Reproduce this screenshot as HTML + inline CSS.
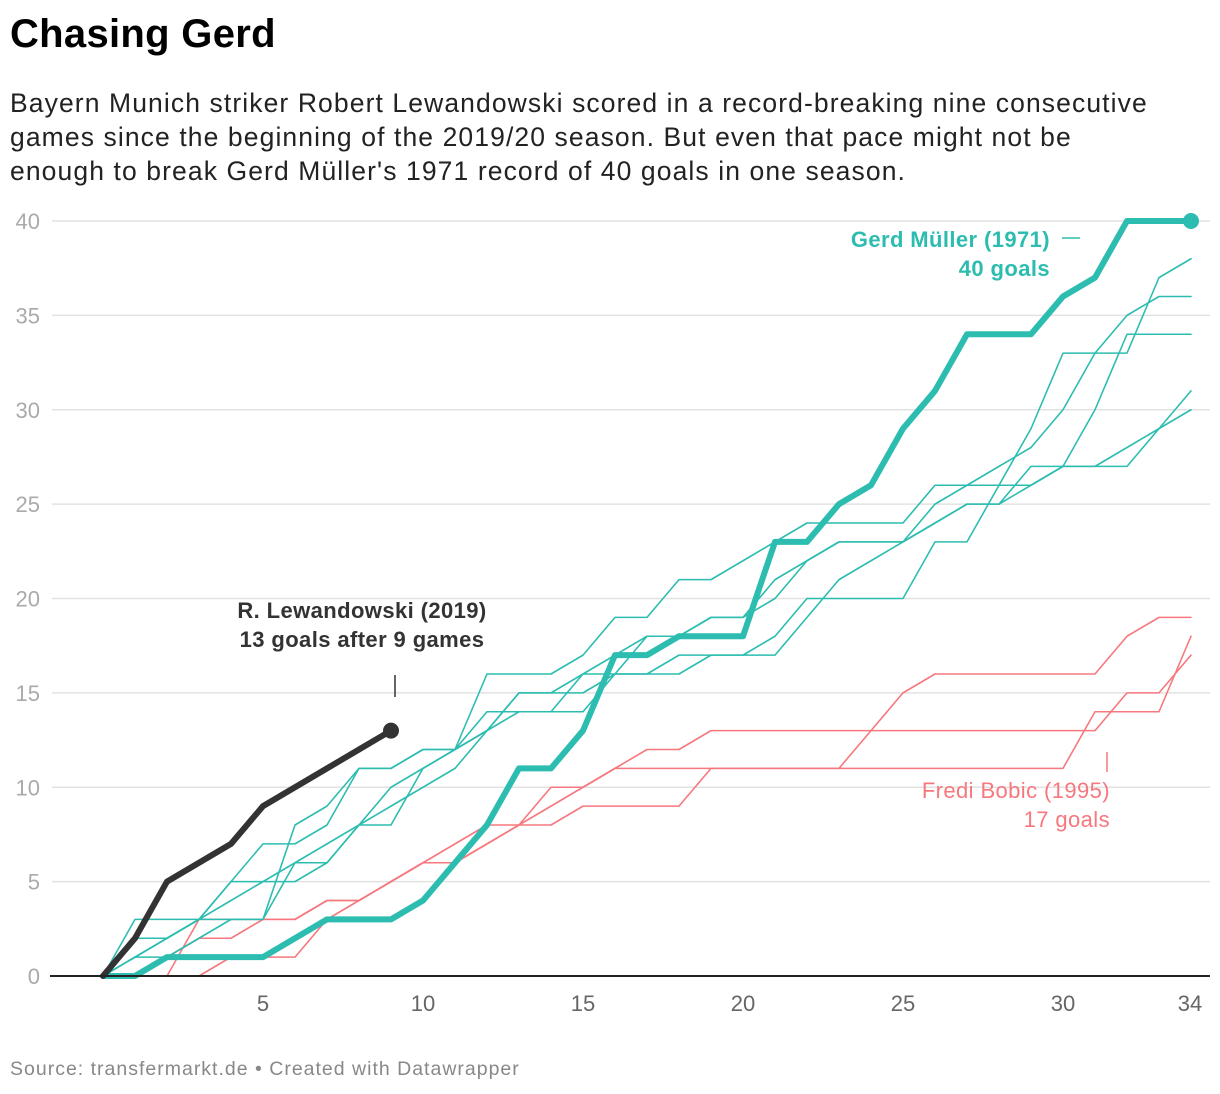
<!DOCTYPE html>
<html><head><meta charset="utf-8">
<style>
body{margin:0;background:#fff;width:1220px;height:1094px;overflow:hidden;font-family:"Liberation Sans",Arial,sans-serif;}
#title{position:absolute;left:10px;top:12px;font-size:40px;font-weight:bold;color:#000;letter-spacing:0.3px;margin:0}
#sub{position:absolute;left:10px;top:86px;font-size:26.5px;line-height:34px;color:#222;width:1210px;margin:0;letter-spacing:1.1px;white-space:nowrap}
#src{position:absolute;left:10px;top:1058px;font-size:19.5px;color:#888;letter-spacing:1px}
svg{position:absolute;left:0;top:0}
</style></head><body>
<h1 id="title">Chasing Gerd</h1>
<p id="sub">Bayern Munich striker Robert Lewandowski scored in a record-breaking nine consecutive<br>games since the beginning of the 2019/20 season. But even that pace might not be<br>enough to break Gerd Müller's 1971 record of 40 goals in one season.</p>
<div id="src">Source: transfermarkt.de • Created with Datawrapper</div>
<svg id="chart" width="1220" height="1094"></svg>
<script>
const yTicks=[0,5,10,15,20,25,30,35,40];
const xTicks=[5,10,15,20,25,30,34];
const mueller=[0,0,1,1,1,1,2,3,3,3,4,6,8,11,11,13,17,17,18,18,18,23,23,25,26,29,31,34,34,34,36,37,40,40,40];
const lewandowski=[0,2,5,6,7,9,10,11,12,13];
const teal1=[0,3,3,3,5,5,5,6,8,9,10,11,13,15,15,16,17,18,18,19,19,20,22,23,23,23,25,26,26,29,33,33,33,37,38];
const teal2=[0,1,2,3,5,7,7,8,11,11,12,12,16,16,16,17,19,19,21,21,22,23,24,24,24,24,26,26,27,28,30,33,35,36,36];
const teal3=[0,2,2,3,3,3,6,6,8,10,11,12,14,14,14,14,16,16,16,17,17,17,19,21,22,23,24,25,25,27,27,30,34,34,34];
const teal4=[0,1,2,3,4,5,6,7,8,8,11,12,13,14,14,16,16,18,18,19,19,21,22,23,23,23,24,25,25,26,27,27,27,29,31];
const teal5=[0,1,1,2,3,3,8,9,11,11,12,12,13,15,15,15,16,16,17,17,17,18,20,20,20,20,23,23,26,26,27,27,28,29,30];
const bobic=[0,0,1,2,2,3,3,4,4,5,6,6,7,8,9,10,11,12,12,13,13,13,13,13,13,13,13,13,13,13,13,13,15,15,17];
const red2=[0,0,0,0,1,1,1,3,4,5,6,7,8,8,10,10,11,11,11,11,11,11,11,11,13,15,16,16,16,16,16,16,18,19,19];
const red3=[0,0,0,3,3,3,3,4,4,5,6,6,7,8,8,9,9,9,9,11,11,11,11,11,11,11,11,11,11,11,11,14,14,14,18];

const svg=document.getElementById('chart');
const NS='http://www.w3.org/2000/svg';
const X=g=>103+g*32;
const Y=v=>976-v*18.875;
function el(t,a,txt){const e=document.createElementNS(NS,t);for(const k in a)e.setAttribute(k,a[k]);if(txt!==undefined)e.textContent=txt;svg.appendChild(e);return e;}
const TEAL='#2dbdb0',RED='#f6787e',DARK='#333';

yTicks.forEach(v=>{
 if(v>0){const l=el('line',{x1:52,x2:1210,y1:Y(v),y2:Y(v),stroke:'#e2e2e2','stroke-width':1.5});
 
 }
 const t=el('text',{x:40,y:Y(v)+8,'text-anchor':'end','font-size':22,fill:'#aaa'},String(v));
 
 
});
xTicks.forEach(v=>{
 const t=el('text',{x:v===34?1190:X(v),y:1011,'text-anchor':'middle','font-size':22,fill:'#666'},String(v));
 
 
});
function line(data,color,w,name){
 const p=el('polyline',{points:data.map((v,i)=>X(i)+','+Y(v)).join(' '),fill:'none',stroke:color,'stroke-width':w,'stroke-linejoin':'round','stroke-linecap':'round'});
 
 
}
line(red3,RED,1.6,'line-red-3');
line(red2,RED,1.6,'line-red-2');
line(bobic,RED,1.6,'line-bobic');
line(teal5,TEAL,1.6,'line-teal-5');
line(teal4,TEAL,1.6,'line-teal-4');
line(teal3,TEAL,1.6,'line-teal-3');
line(teal2,TEAL,1.6,'line-teal-2');
line(teal1,TEAL,1.6,'line-teal-1');
line(mueller,TEAL,6,'line-mueller');
line(lewandowski,DARK,6,'line-lewandowski');
const base=el('line',{x1:50,x2:1210,y1:976,y2:976,stroke:'#222','stroke-width':2});


const d1=el('circle',{cx:X(mueller.length-1),cy:Y(mueller[mueller.length-1]),r:8,fill:TEAL});


const d2=el('circle',{cx:X(lewandowski.length-1),cy:Y(lewandowski[lewandowski.length-1]),r:8,fill:DARK});



function ann(lines,x,y,anchor,color,bold,name){
 lines.forEach((s,i)=>{const t=el('text',{x:x,y:y+i*29,'text-anchor':anchor,'font-size':22,fill:color,'font-weight':bold?'bold':'normal','letter-spacing':0.4},s);
 
 });
}
ann(['Gerd Müller (1971)','40 goals'],1050,247,'end',TEAL,true,'mueller-label');
const m1=el('line',{x1:1062,x2:1080,y1:238,y2:238,stroke:TEAL,'stroke-width':1.5});


ann(['R. Lewandowski (2019)','13 goals after 9 games'],362,618,'middle',DARK,true,'lewandowski-label');
const m2=el('line',{x1:395,x2:395,y1:675,y2:697,stroke:DARK,'stroke-width':1.5});


ann(['Fredi Bobic (1995)','17 goals'],1110,798,'end',RED,false,'bobic-label');
const m3=el('line',{x1:1107,x2:1107,y1:752,y2:772,stroke:RED,'stroke-width':1.5});


</script>
</body></html>
